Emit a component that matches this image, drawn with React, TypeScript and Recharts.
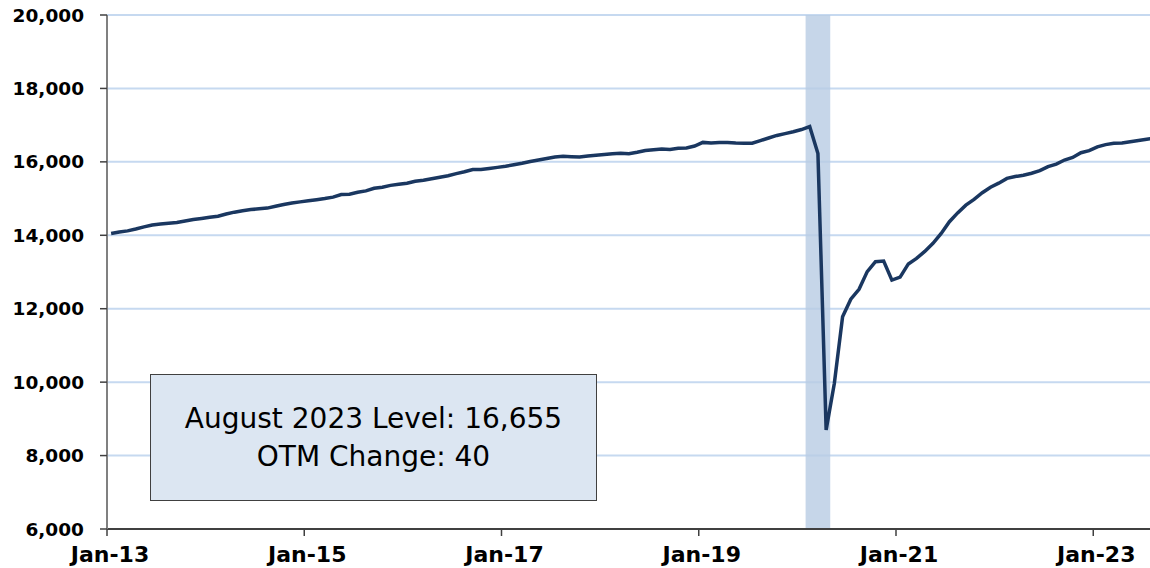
import React from 'react';
import { LineChart, Line, XAxis, YAxis, CartesianGrid, ReferenceArea } from 'recharts';

// Leisure & hospitality employment, thousands, monthly Jan-13 .. Aug-23
const years = [2013, 2014, 2015, 2016, 2017, 2018, 2019, 2020, 2021, 2022, 2023];
const monthNames = ['Jan', 'Feb', 'Mar', 'Apr', 'May', 'Jun', 'Jul', 'Aug', 'Sep', 'Oct', 'Nov', 'Dec'];

const level2013 = [14050, 14090, 14120, 14170, 14230, 14280, 14310, 14330, 14350, 14390, 14430, 14460];
const level2014 = [14490, 14520, 14580, 14630, 14670, 14700, 14720, 14740, 14790, 14840, 14880, 14910];
const level2015 = [14940, 14970, 15000, 15040, 15110, 15120, 15170, 15210, 15280, 15310, 15360, 15390];
const level2016 = [15420, 15470, 15500, 15540, 15580, 15620, 15680, 15730, 15790, 15790, 15820, 15850];
const level2017 = [15880, 15920, 15960, 16010, 16050, 16090, 16130, 16150, 16140, 16130, 16160, 16180];
const level2018 = [16200, 16220, 16235, 16220, 16260, 16310, 16330, 16350, 16340, 16370, 16380, 16430];
const level2019 = [16530, 16515, 16525, 16530, 16515, 16505, 16510, 16580, 16650, 16720, 16770, 16820];
const level2020 = [16880, 16960, 16230, 8700, 9970, 11780, 12260, 12530, 13010, 13280, 13300, 12780];
const level2021 = [12860, 13220, 13370, 13560, 13780, 14050, 14370, 14610, 14820, 14980, 15160, 15310];
const level2022 = [15420, 15550, 15600, 15635, 15690, 15760, 15870, 15940, 16050, 16120, 16250, 16305];
const level2023 = [16410, 16470, 16505, 16515, 16550, 16580, 16615, 16655];

const levels = [
  ...level2013, ...level2014, ...level2015, ...level2016, ...level2017, ...level2018,
  ...level2019, ...level2020, ...level2021, ...level2022, ...level2023,
];

const yTicks = [6000, 8000, 10000, 12000, 14000, 16000, 18000, 20000];
const xTickLabels = ['Jan-13', 'Jan-15', 'Jan-17', 'Jan-19', 'Jan-21', 'Jan-23'];
const recessionMonths = ['Feb-20', 'Apr-20'];

const monthLabels: string[] = [];
years.forEach(y => monthNames.forEach(m => monthLabels.push(`${m}-${String(y).slice(2)}`)));

const data = levels.map((v, i) => ({ idx: i, month: monthLabels[i], level: v }));
const xTicks = xTickLabels.map(l => monthLabels.indexOf(l) - 0.5);
const recX1 = monthLabels.indexOf(recessionMonths[0]) - 0.5;
const recX2 = monthLabels.indexOf(recessionMonths[1]) + 0.5;

const FONT = '"DejaVu Sans", Verdana, sans-serif';

const XTick = (props: any) => {
  const { x, y, payload } = props;
  const label = xTickLabels[xTicks.indexOf(payload.value)] ?? '';
  return (
    <text x={x + 3} y={y} dy="0.71em" textAnchor="middle" fontSize={22} fontWeight={700} fill="#000" fontFamily={FONT}>
      {label}
    </text>
  );
};

const YTick = (props: any) => {
  const { x, y, payload } = props;
  return (
    <text x={x} y={y} dy="0.355em" textAnchor="end" fontSize={18.5} fontWeight={700} fill="#000" fontFamily={FONT}>
      {Number(payload.value).toLocaleString('en-US')}
    </text>
  );
};

export default function App() {
  return (
    <div style={{ position: 'absolute', left: 0, top: 0, width: 1150, height: 568, overflow: 'hidden', background: '#fff', fontFamily: FONT }}>
      <LineChart width={1160} height={568} data={data} margin={{ top: 15, right: 1, left: 0, bottom: 0 }}>
        <CartesianGrid vertical={false} stroke="#c6d9f0" strokeWidth={2} />
        <ReferenceArea x1={recX1} x2={recX2} y1={6000} y2={20000} fill="#b8cce4" fillOpacity={0.8} stroke="none" ifOverflow="hidden" />
        <XAxis
          dataKey="idx"
          type="number"
          domain={[-0.5, levels.length - 0.5]}
          ticks={xTicks}
          interval={0}
          height={39}
          tickSize={7}
          tickMargin={10}
          tick={<XTick />}
          axisLine={{ stroke: '#404040', strokeWidth: 2 }}
          tickLine={{ stroke: '#404040', strokeWidth: 1.5 }}
        />
        <YAxis
          domain={[6000, 20000]}
          ticks={yTicks}
          interval={0}
          width={107}
          tickSize={7}
          tickMargin={16}
          tick={<YTick />}
          axisLine={{ stroke: '#808080', strokeWidth: 2 }}
          tickLine={{ stroke: '#404040', strokeWidth: 1.5 }}
        />
        <Line type="linear" dataKey="level" stroke="#1a3760" strokeWidth={3.5} dot={false} isAnimationActive={false} />
      </LineChart>
      <div
        style={{
          position: 'absolute', left: 150, top: 374, width: 447, height: 127, boxSizing: 'border-box',
          border: '1px solid #404040', background: '#dce6f2', display: 'flex', flexDirection: 'column',
          alignItems: 'center', justifyContent: 'center', fontSize: 28, lineHeight: '38px', color: '#000',
        }}
      >
        <div>August 2023 Level: 16,655</div>
        <div>OTM Change: 40</div>
      </div>
    </div>
  );
}
